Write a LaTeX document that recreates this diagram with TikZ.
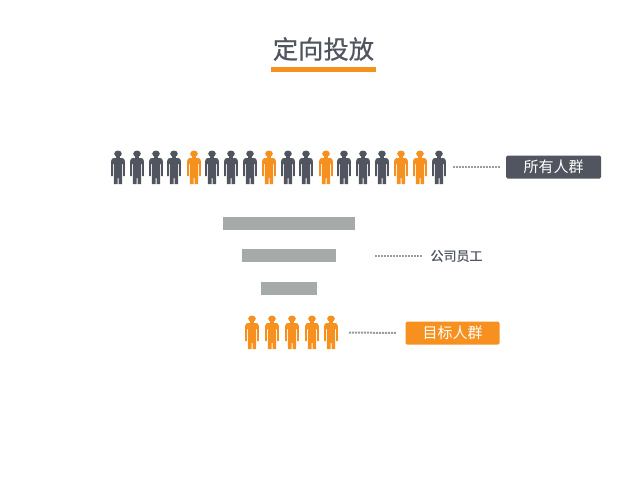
\documentclass[tikz,border=0pt]{standalone}
\usepackage{fontspec}
\setmainfont{Noto Sans CJK SC}
\newfontfamily\semibold[FakeBold=0.6]{Noto Sans CJK SC}
\definecolor{slatec}{HTML}{51555F}
\definecolor{orangec}{HTML}{F6901E}
\definecolor{barc}{HTML}{A5ABA9}
\definecolor{dotc}{HTML}{9A9DA0}
\newcommand{\fs}[1]{\fontsize{#1}{#1}\selectfont}
\tikzset{
  x=1pt,y=-1pt,
  person/.pic={
    \fill[pic actions] (0,3.7) ellipse (3.8 and 3.2);
    \fill[pic actions] (-1.8,6) rectangle (1.8,9);
    \fill[pic actions] (-4,8) -- (4,8) .. controls (5.6,8) and (6.8,9) .. (6.8,11) -- (6.8,26) -- (5.2,26) -- (5.2,14) -- (4.2,14) -- (4.2,34) -- (0.5,34) -- (0.5,28) -- (-0.5,28) -- (-0.5,34) -- (-4.2,34) -- (-4.2,14) -- (-5.2,14) -- (-5.2,26) -- (-6.8,26) -- (-6.8,11) .. controls (-6.8,9) and (-5.6,8) .. (-4,8) -- cycle;
  },
  titletext/.style={font=\fs{25.3}\semibold, text=slatec, inner sep=0pt},
  bar/.style={fill=barc, draw=none, inner sep=0pt, minimum height=#1},
  tag/.style={rounded corners=1.5pt, inner sep=0pt, text=white, font=\fs{15}, minimum height=23pt},
  leader/.style={dotc, line width=2pt, dash pattern=on 2pt off 1pt},
}
\begin{document}
\begin{tikzpicture}
\useasboundingbox (0,0) rectangle (640,480);
\fill[white] (0,0) rectangle (640,480);
% title
\node[titletext] (title) at (323.5,49) {定向投放};
\fill[orangec] (270.5,67) rectangle (376,71.5);
% top row
\foreach \x/\c in {118/slatec,137/slatec,156/slatec,174/slatec,194/orangec,212/slatec,231/slatec,250/slatec,269/orangec,288/slatec,306/slatec,326/orangec,344/slatec,363/slatec,382/slatec,401/orangec,420/orangec,439/slatec}
  \pic[fill=\c] at (\x,150) {person};
% bars
\node[bar=13pt, minimum width=132pt] (b1) at (289,223) {};
\node[bar=13pt, minimum width=94pt] (b2) at (289,255.5) {};
\node[bar=13pt, minimum width=56pt] (b3) at (289,288) {};
% bottom row
\foreach \x in {252,272,292,312,331}
  \pic[fill=orangec] at (\x,315) {person};
% labels
\node[tag, fill=slatec, minimum width=95pt] (all) at (553.5,167) {所有人群};
\node[font=\fs{13}\semibold, text=slatec, inner sep=0pt] (staff) at (456.5,256) {公司员工};
\node[tag, fill=orangec, minimum width=94pt] (target) at (452.5,333) {\raisebox{1.5pt}{目标人群}};
% leaders
\coordinate (a0) at (453,167);
\coordinate (s0) at (375,256);
\coordinate (t0) at (349,332.5);
\draw[leader] (a0) -- ([xshift=-5pt]all.west);
\draw[leader] (s0) -- ([xshift=-8pt]staff.west);
\draw[leader] (t0) -- ([xshift=-9pt]target.west);
\end{tikzpicture}
\end{document}
